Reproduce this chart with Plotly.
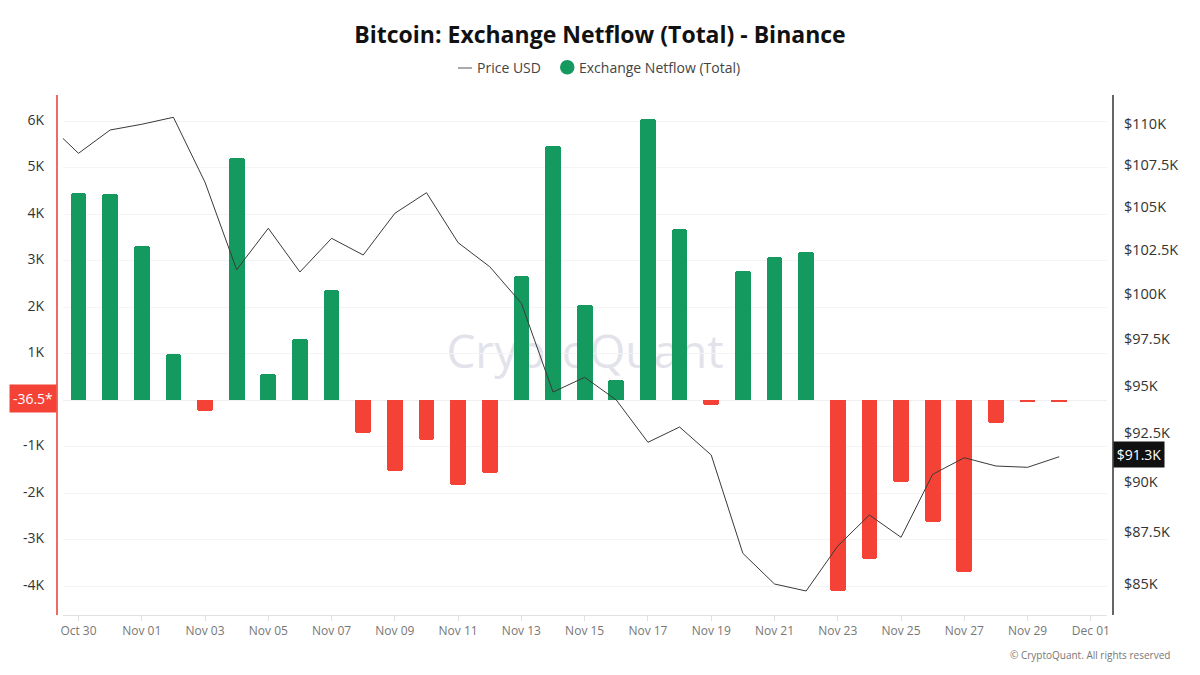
import plotly.graph_objects as go

W, H = 1200, 675
L, R, T, B = 63, 1107, 95, 615

TITLE = "Bitcoin: Exchange Netflow (Total) - Binance"
PRICE_NAME = "Price USD"
FLOW_NAME = "Exchange Netflow (Total)"

price_dates = ["2024-10-29", "2024-10-30", "2024-10-31", "2024-11-01", "2024-11-02", "2024-11-03", "2024-11-04",
               "2024-11-05", "2024-11-06", "2024-11-07", "2024-11-08", "2024-11-09", "2024-11-10", "2024-11-11",
               "2024-11-12", "2024-11-13", "2024-11-14", "2024-11-15", "2024-11-16", "2024-11-17", "2024-11-18",
               "2024-11-19", "2024-11-20", "2024-11-21", "2024-11-22", "2024-11-23", "2024-11-24", "2024-11-25",
               "2024-11-26", "2024-11-27", "2024-11-28", "2024-11-29", "2024-11-30"]
price_usd = [110062, 108208, 109630, 109982, 110414, 106464, 101373, 103754, 101243, 103173, 102212, 104629,
             105844, 102919, 101543, 99482, 94656, 95440, 94234, 92025, 92818, 91373, 86474, 85000, 84667,
             86829, 88351, 87253, 90389, 91234, 90810, 90745, 91285]

flow_dates = price_dates[1:]
netflow = [4458, 4420, 3320, 980, -235, 5200, 550, 1320, 2370, -710, -1520, -860, -1830, -1560, 2670, 5455,
           2050, 440, 6050, 3680, -110, 2770, 3080, 3180, -4110, -3420, -1760, -2630, -3700, -500, -36, -36.5]

left_ticks = [-4000, -3000, -2000, -1000, 1000, 2000, 3000, 4000, 5000, 6000]
left_labels = ["-4K", "-3K", "-2K", "-1K", "1K", "2K", "3K", "4K", "5K", "6K"]
right_ticks = [85000, 87500, 90000, 92500, 95000, 97500, 100000, 102500, 105000, 107500, 110000]
right_labels = ["$85K", "$87.5K", "$90K", "$92.5K", "$95K", "$97.5K", "$100K", "$102.5K", "$105K", "$107.5K", "$110K"]
x_ticks = ["2024-10-30", "2024-11-01", "2024-11-03", "2024-11-05", "2024-11-07", "2024-11-09", "2024-11-11",
           "2024-11-13", "2024-11-15", "2024-11-17", "2024-11-19", "2024-11-21", "2024-11-23", "2024-11-25",
           "2024-11-27", "2024-11-29", "2024-12-01"]
x_labels = ["Oct 30", "Nov 01", "Nov 03", "Nov 05", "Nov 07", "Nov 09", "Nov 11", "Nov 13", "Nov 15", "Nov 17",
            "Nov 19", "Nov 21", "Nov 23", "Nov 25", "Nov 27", "Nov 29", "Dec 01"]

GREEN, RED = "#14995f", "#f44336"
FONT = "Open Sans"


def px(x):
    return (x - L) / (R - L)


def py(y):
    return (B - y) / (B - T)


fig = go.Figure()
fig.add_trace(go.Bar(x=flow_dates, y=netflow, name=FLOW_NAME, showlegend=False, width=43000000,
                     marker=dict(color=[GREEN if v >= 0 else RED for v in netflow], line_width=0, cornerradius=3),
                     yaxis="y"))
fig.add_trace(go.Scatter(x=price_dates, y=price_usd, name=PRICE_NAME, mode="lines", showlegend=False,
                         line=dict(color="#3a3a3a", width=1), yaxis="y2"))

shapes = [
    # watermark
    dict(type="rect", xref="paper", yref="paper", x0=px(430), x1=px(740), y0=py(380), y1=py(325), layer="below",
         line_width=0, fillcolor="rgba(0,0,0,0)",
         label=dict(text="CryptoQuant", font=dict(family=FONT, size=46, color="#e2e3ea"),
                    textposition="middle center")),
    # axis lines
    dict(type="line", xref="paper", yref="paper", x0=px(57), x1=px(57), y0=py(T), y1=py(B),
         line=dict(color="#ee6a66", width=2)),
    dict(type="line", xref="paper", yref="paper", x0=px(1113), x1=px(1113), y0=py(T), y1=py(B),
         line=dict(color="#333333", width=1.5)),
    # legend glyphs
    dict(type="line", xref="paper", yref="paper", x0=px(458), x1=px(472), y0=py(68), y1=py(68),
         line=dict(color="#555555", width=1)),
    dict(type="circle", xref="paper", yref="paper", x0=px(560), x1=px(574.5), y0=py(74.5), y1=py(60),
         fillcolor=GREEN, line_width=0),
]

annotations = [
    dict(text=PRICE_NAME, xref="paper", yref="paper", x=px(475), y=py(68), xanchor="left", yanchor="middle",
         showarrow=False, font=dict(family=FONT, size=14, color="#444444")),
    dict(text=FLOW_NAME, xref="paper", yref="paper", x=px(576.5), y=py(68), xanchor="left", yanchor="middle",
         showarrow=False, font=dict(family=FONT, size=14, color="#444444")),
    dict(text="© CryptoQuant. All rights reserved", xref="paper", yref="paper", x=px(1172), y=py(655),
         xanchor="right", yanchor="middle", showarrow=False, font=dict(family=FONT, size=10, color="#777777")),
    dict(text="-36.5*", xref="paper", yref="y", x=px(57), y=netflow[-1], yshift=3, xanchor="right",
         yanchor="middle", showarrow=False, width=46, height=27, bgcolor=RED, borderpad=0,
         font=dict(family=FONT, size=14, color="#ffffff")),
    dict(text="$91.3K", xref="paper", yref="y2", x=px(1113), y=4.96038, yshift=2, xanchor="left",
         yanchor="middle", showarrow=False, width=50, height=25, bgcolor="#111111", borderpad=0,
         font=dict(family=FONT, size=14, color="#ffffff")),
]

fig.update_layout(
    width=W, height=H,
    margin=dict(l=L, r=W - R, t=T, b=H - B, pad=0),
    paper_bgcolor="#ffffff", plot_bgcolor="#ffffff",
    font=dict(family=FONT, color="#333333"),
    title=dict(text=f"<b>{TITLE}</b>", x=0.5, xref="container", xanchor="center", y=1 - 35 / H, yanchor="middle",
               font=dict(family=FONT, size=23, color="#111111")),
    showlegend=False,
    bargap=0,
    shapes=shapes,
    annotations=annotations,
    xaxis=dict(type="date", range=["2024-10-29 12:15", "2024-12-01 12:15"], tickmode="array", tickvals=x_ticks,
               ticktext=x_labels, ticks="outside", ticklen=5, tickcolor="#dfe1e5", linecolor="#dfe1e5", linewidth=1,
               showline=True, showgrid=False, zeroline=False, tickfont=dict(family=FONT, size=12, color="#777777")),
    yaxis=dict(range=[-4623, 6559], tickmode="array", tickvals=left_ticks, ticktext=left_labels, showgrid=True,
               gridcolor="#f4f4f6", gridwidth=1, zeroline=True, zerolinecolor="#f0f0f2", zerolinewidth=1,
               showline=False, ticks="", ticklabelstandoff=18, ticklabelshift=-1,
               tickfont=dict(family=FONT, size=14, color="#333333")),
    yaxis2=dict(type="log", range=[4.92187, 5.04845], overlaying="y", side="right", tickmode="array",
                tickvals=right_ticks, ticktext=right_labels, showgrid=False, zeroline=False, showline=False, ticks="",
                ticklabelstandoff=16, tickfont=dict(family=FONT, size=14.5, color="#333333")),
)

fig.write_html("out.html", post_script="document.body.style.margin='0';", config={"displayModeBar": False})
